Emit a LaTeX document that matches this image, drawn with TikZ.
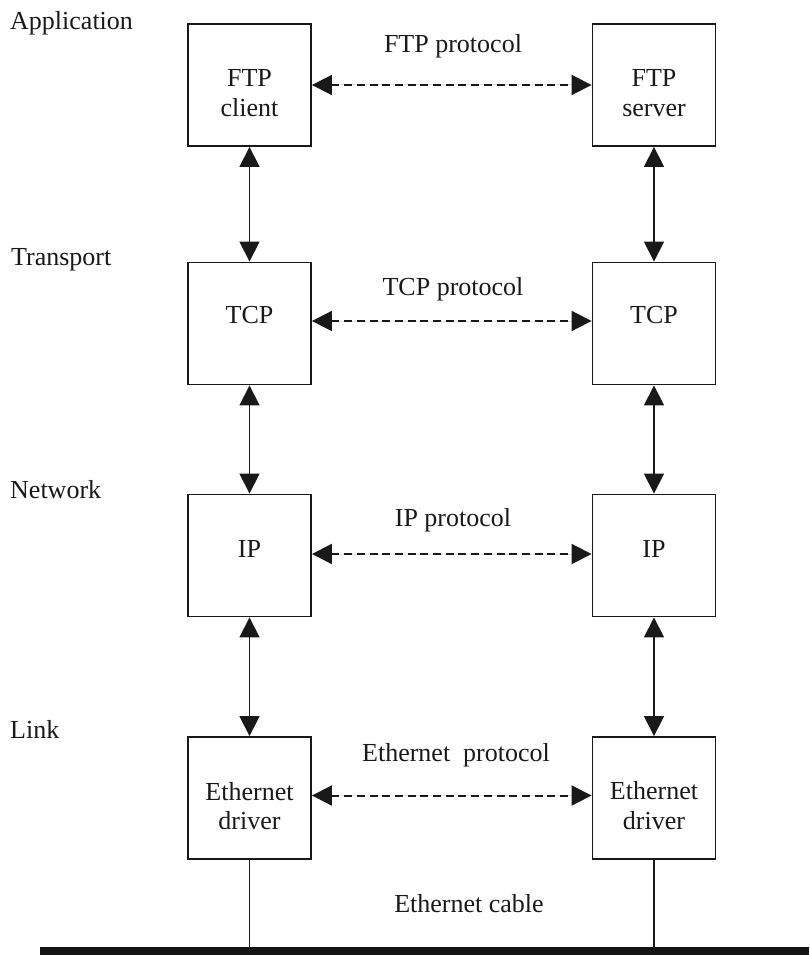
\documentclass[tikz,border=0pt]{standalone}
\usepackage{fontspec}
\setmainfont{Liberation Serif}
\usetikzlibrary{arrows.meta}
\begin{document}
\begin{tikzpicture}[x=1pt,y=-1pt,
  every node/.style={font=\fontsize{26}{30}\selectfont, inner sep=0pt, text=black!90},
  layerbox/.style={draw=black!90, line width=1.9pt, minimum width=123pt, minimum height=122pt},
  txt/.style={anchor=base},
  lay/.style={anchor=base west},
  dtip/.style={{Triangle[length=20pt,width=20pt]}-{Triangle[length=20pt,width=20pt]}},
  vlink/.style={dtip, draw=black!90, fill=black!90, line width=1.7pt},
  hlink/.style={dtip, draw=black!90, fill=black!90, line width=2pt, dash pattern=on 8pt off 4.7pt},
  cable/.style={draw=black!90, line width=1.3pt}]
\useasboundingbox (0,0) rectangle (809,955);

% boxes
\node[layerbox] (ftpc) at (249.5,85) {};
\node[layerbox] (ftps) at (654,85) {};
\node[layerbox] (tcpl) at (249.5,323.5) {};
\node[layerbox] (tcpr) at (654,323.5) {};
\node[layerbox] (ipl) at (249.5,555.5) {};
\node[layerbox] (ipr) at (654,555.5) {};
\node[layerbox] (ethl) at (249.5,798) {};
\node[layerbox] (ethr) at (654,798) {};

% box texts
\node[txt] (t1a) at (249.5,87) {FTP};
\node[txt] (t1b) at (249.5,117) {client};
\node[txt] (t2a) at (654,87) {FTP};
\node[txt] (t2b) at (654,117) {server};
\node[txt] (t3) at (249.5,323) {TCP};
\node[txt] (t4) at (654,323) {TCP};
\node[txt] (t5) at (249.5,557) {IP};
\node[txt] (t6) at (654,557) {IP};
\node[txt] (t7a) at (249.5,800) {Ethernet};
\node[txt] (t7b) at (249.5,829) {driver};
\node[txt] (t8a) at (654,799) {Ethernet};
\node[txt] (t8b) at (654,829) {driver};

% layer labels
\node[lay] (lapp) at (10,30) {Application};
\node[lay] (ltra) at (11,265) {Transport};
\node[lay] (lnet) at (10,498) {Network};
\node[lay] (llnk) at (10,738) {Link};

% protocol labels
\node[txt] (pftp) at (453,53) {FTP protocol};
\node[txt] (ptcp) at (453,295) {TCP protocol};
\node[txt] (pip) at (453,526) {IP protocol};
\node[txt] (peth) at (456,761) {Ethernet\ \ protocol};
\node[txt] (pcab) at (469,912) {Ethernet cable};

% vertical arrows
\draw[vlink] (ftpc.south) -- (tcpl.north);
\draw[vlink] (tcpl.south) -- (ipl.north);
\draw[vlink] (ipl.south) -- (ethl.north);
\draw[vlink] (ftps.south) -- (tcpr.north);
\draw[vlink] (tcpr.south) -- (ipr.north);
\draw[vlink] (ipr.south) -- (ethr.north);

% horizontal dashed arrows
\draw[hlink] (ftpc.east) -- (ftps.west);
\draw[hlink] ([yshift=2.5pt]tcpl.east) -- ([yshift=2.5pt]tcpr.west);
\draw[hlink] ([yshift=1.5pt]ipl.east) -- ([yshift=1.5pt]ipr.west);
\draw[hlink] ([yshift=2.5pt]ethl.east) -- ([yshift=2.5pt]ethr.west);

% cable
\coordinate (busl) at (40,951);
\coordinate (busr) at (809,951);
\draw[line width=8pt, draw=black!92] (busl) -- (busr);
\draw[cable] (ethl.south) -- (ethl.south |- busl);
\draw[cable] (ethr.south) -- (ethr.south |- busl);
\end{tikzpicture}
\end{document}
